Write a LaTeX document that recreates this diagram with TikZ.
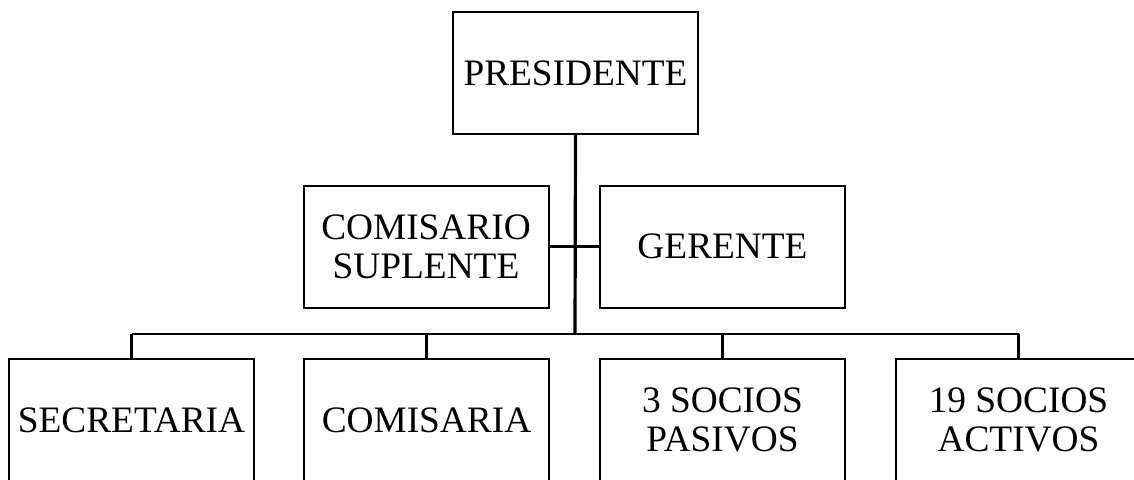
\documentclass[tikz,border=0pt]{standalone}
\usepackage{fontspec}
\setmainfont{Liberation Serif}
\begin{document}
\begin{tikzpicture}[x=0.75pt,y=-0.75pt,
  orgbox/.style={draw=black,line width=1.5pt,minimum width=183.75pt,minimum height=91.5pt,
    inner sep=0pt,align=center,font=\fontsize{28}{29.5}\selectfont},
  trunk/.style={draw=black,line width=2.4pt},
  link/.style={draw=black,line width=1.6pt}]
\useasboundingbox (0,0) rectangle (1134,479);
\clip (0,0) rectangle (1134,479);
\fill[white] (0,0) rectangle (1134,479);
\node[orgbox] (pres) at (575.5,73) {PRESIDENTE};
\node[orgbox] (comsup) at (426,246.5) {COMISARIO\\SUPLENTE};
\node[orgbox] (ger) at (722.5,246.5) {GERENTE};
\node[orgbox] (sec) at (131.5,420) {SECRETARIA};
\node[orgbox] (coma) at (426.5,420) {COMISARIA};
\node[orgbox] (pas) at (722.5,420) {3 SOCIOS\\PASIVOS};
\node[orgbox] (act) at (1018.5,420) {19 SOCIOS\\ACTIVOS};
\coordinate (bus) at (575,334);
\coordinate (busL) at (131.5,334);
\coordinate (busR) at (1018.5,334);
\draw[trunk] (pres.south) -- (bus);
\draw[link] (comsup.east) -- (ger.west);
\draw[link] (busL) -- (busR);
\draw[link] (busL) -- (sec.north);
\draw[link] (bus -| coma.north) -- (coma.north);
\draw[link] (bus -| pas.north) -- (pas.north);
\draw[link] (busR) -- (act.north);
\end{tikzpicture}
\end{document}
